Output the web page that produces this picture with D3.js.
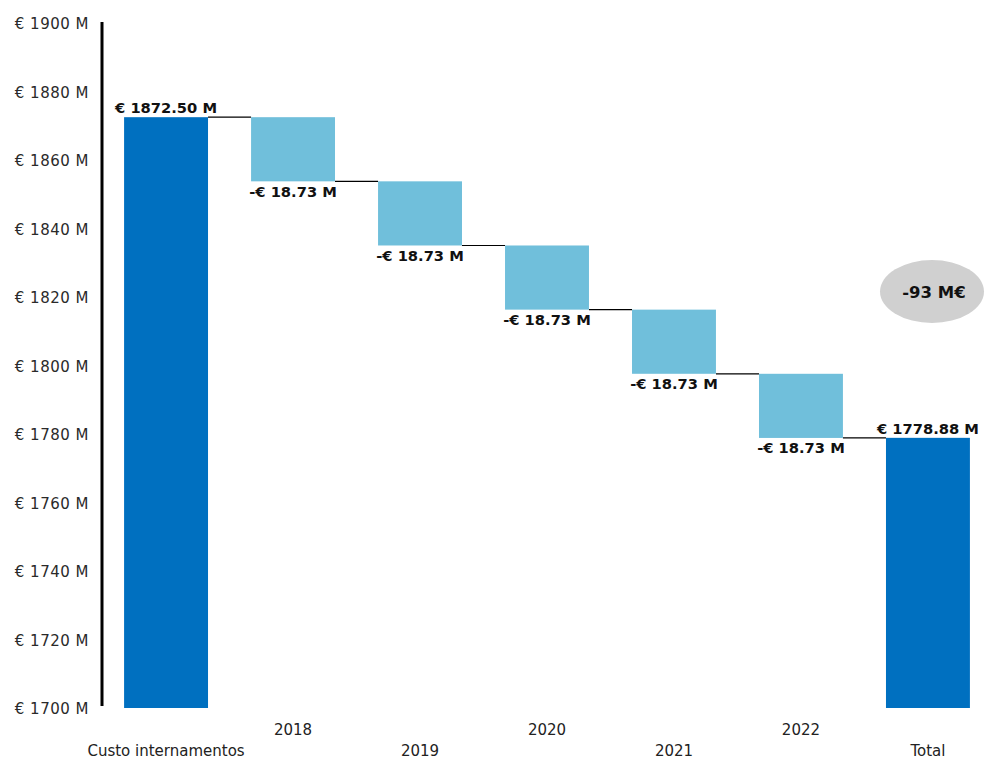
<!DOCTYPE html>
<html>
<head>
<meta charset="utf-8">
<script src="https://cdn.jsdelivr.net/npm/d3@7"></script>
<style>
  html, body { margin: 0; padding: 0; background: #ffffff; }
  svg { display: block; }
</style>
</head>
<body>
<svg id="chart" width="985" height="761"></svg>
<script>
// Waterfall of hospitalisation cost: starting value, yearly changes, total
const categories = ["Custo internamentos", "2018", "2019", "2020", "2021", "2022", "Total"];
const startValue = 1872.50;
const yearDeltas = [-18.73, -18.73, -18.73, -18.73, -18.73];
const totalValue = 1778.88;
const yTicks = [1700, 1720, 1740, 1760, 1780, 1800, 1820, 1840, 1860, 1880, 1900];
const annotationText = "-93 M€";

const svg = d3.select("#chart");

const x = d3.scaleBand()
  .domain(categories)
  .range([102.5, 991.5])
  .paddingInner(0.339)
  .paddingOuter(0.17);

const y = d3.scaleLinear()
  .domain([1700, 1900])
  .range([708, 23]);

// Build the bar records: base bars and floating step bars
const bars = [];
bars.push({ cat: categories[0], y0: 1700, y1: startValue, kind: "total", value: startValue });
let running = startValue;
yearDeltas.forEach((d, i) => {
  const from = running;
  running = running + d;
  bars.push({ cat: categories[i + 1], y0: running, y1: from, kind: "step", value: d, from, to: running });
});
bars.push({ cat: categories[categories.length - 1], y0: 1700, y1: totalValue, kind: "total", value: totalValue });

const fmtTotal = v => "€ " + v.toFixed(2) + " M";
const fmtStep = v => (v < 0 ? "-" : "") + "€ " + Math.abs(v).toFixed(2) + " M";

// Y axis
const yAxis = d3.axisLeft(y)
  .tickValues(yTicks)
  .tickSize(0)
  .tickPadding(13)
  .tickFormat(d => "€ " + d + " M");

const gy = svg.append("g")
  .attr("transform", "translate(102,0)")
  .call(yAxis);
gy.select(".domain")
  .attr("stroke", "#000")
  .attr("stroke-width", 3)
  .attr("d", `M0,${y(1900) - 1}V${y(1700) - 2}`);
gy.selectAll(".tick text")
  .attr("fill", "#2a2a2a")
  .attr("font-family", "DejaVu Sans, sans-serif")
  .attr("font-size", 15)
  .attr("letter-spacing", 0.5)
  .attr("dy", "0.38em");

// Connector lines between consecutive bars
const connectors = [];
for (let i = 0; i < bars.length - 1; i++) {
  const a = bars[i], b = bars[i + 1];
  const level = a.kind === "total" ? a.y1 : a.to;
  connectors.push({ x1: x(a.cat) + x.bandwidth(), x2: x(b.cat), level });
}
svg.append("g").selectAll("line")
  .data(connectors)
  .join("line")
  .attr("x1", d => d.x1)
  .attr("x2", d => d.x2)
  .attr("y1", d => y(d.level))
  .attr("y2", d => y(d.level))
  .attr("stroke", "#000")
  .attr("stroke-width", 1.2);

// Bars
svg.append("g").selectAll("rect")
  .data(bars)
  .join("rect")
  .attr("x", d => x(d.cat))
  .attr("width", x.bandwidth())
  .attr("y", d => y(d.y1))
  .attr("height", d => y(d.y0) - y(d.y1))
  .attr("fill", d => d.kind === "total" ? "#0070C0" : "#70BFDB");

// Value labels
svg.append("g").selectAll("text")
  .data(bars)
  .join("text")
  .attr("x", d => x(d.cat) + x.bandwidth() / 2)
  .attr("y", d => d.kind === "total" ? y(d.y1) - 4 : y(d.y0) + 15.5)
  .attr("text-anchor", "middle")
  .attr("font-family", "DejaVu Sans, sans-serif")
  .attr("font-weight", "bold")
  .attr("font-size", 14.7)
  .attr("fill", "#111")
  .text(d => d.kind === "total" ? fmtTotal(d.value) : fmtStep(d.value));

// Category labels, staggered on two rows
svg.append("g").selectAll("text")
  .data(categories)
  .join("text")
  .attr("x", d => x(d) + x.bandwidth() / 2)
  .attr("y", (d, i) => i % 2 === 0 ? 756 : 735)
  .attr("text-anchor", "middle")
  .attr("font-family", "DejaVu Sans, sans-serif")
  .attr("font-size", 15)
  .attr("fill", "#222")
  .text(d => d);

// Overall change annotation
const ann = svg.append("g").attr("transform", "translate(932,291.5)");
ann.append("ellipse")
  .attr("rx", 52)
  .attr("ry", 31.5)
  .attr("fill", "#D0D0D0");
ann.append("text")
  .attr("x", 2)
  .attr("y", 6.5)
  .attr("text-anchor", "middle")
  .attr("font-family", "DejaVu Sans, sans-serif")
  .attr("font-weight", "bold")
  .attr("font-size", 16.5)
  .attr("fill", "#111")
  .text(annotationText);
</script>
</body>
</html>
